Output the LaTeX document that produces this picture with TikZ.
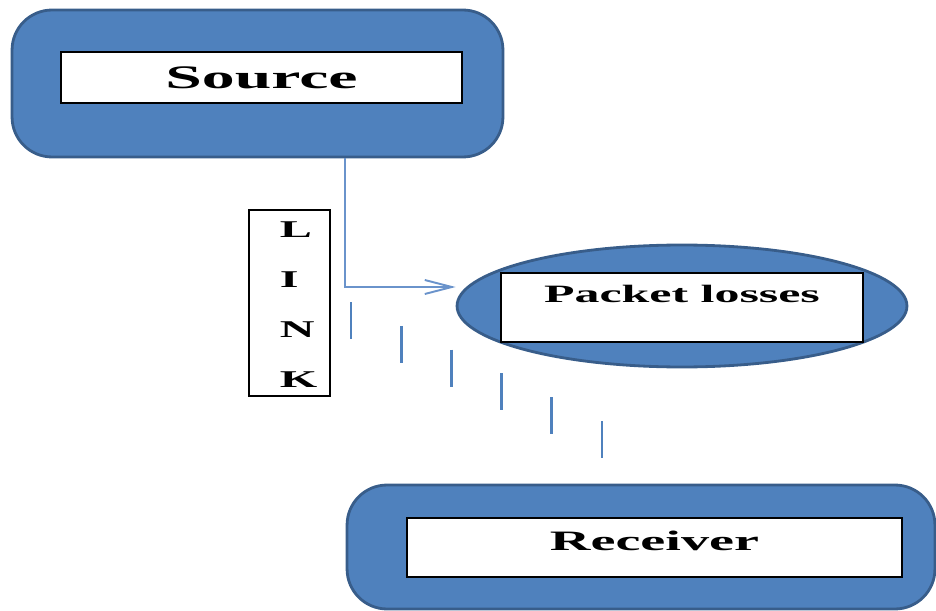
\documentclass[tikz,border=0pt]{standalone}
\usepackage{fontspec}
\setmainfont{Liberation Serif}
\usetikzlibrary{arrows.meta,shapes.geometric,calc,positioning}
\definecolor{blockfill}{HTML}{4F81BD}
\definecolor{blockedge}{HTML}{385D8A}
\definecolor{linkblue}{HTML}{6A93CB}
\newcommand{\stretched}[1]{\scalebox{2}[1]{#1}}

\begin{document}
\begin{tikzpicture}[x=0.02cm,y=-0.02cm,
    bluefill/.style={draw=blockedge,fill=blockfill,line width=1.6pt},
    outerblock/.style={bluefill,rounded corners=0.8cm},
    namebox/.style={draw=black,fill=white,line width=1pt,inner sep=0pt},
    flow/.style={draw=linkblue,line width=1.1pt,-{Straight Barb[length=0.54cm,width=0.28cm]}},
    lossdash/.style={draw=blockfill,line width=1.5pt}]
  \useasboundingbox (0,0) rectangle (936,611);
  % source
  \node[outerblock,minimum width=9.82cm,minimum height=2.94cm] (srcblock) at (257.5,83.5) {};
  \node[namebox,minimum width=8.02cm,minimum height=1.02cm,
        font=\fontsize{18.7}{22}\selectfont\bfseries] (srcname) at (261.5,77.5) {\stretched{Source}};
  % link
  \node[draw=black,line width=1pt,minimum width=1.62cm,minimum height=3.72cm] (linkbox) at (289.5,303) {};
  \node[align=left,inner sep=0pt,font=\fontsize{13.7}{28.45}\selectfont\bfseries] (linkword) at (298.5,305)
       {\stretched{L}\\\stretched{I}\\\stretched{N}\\\stretched{K}};
  % packet losses
  \node[bluefill,ellipse,inner sep=0pt,minimum width=9cm,minimum height=2.44cm] (lossring) at (682,306) {};
  \node[namebox,minimum width=7.24cm,minimum height=1.38cm,text depth=0.56cm,
        font=\fontsize{14.2}{17}\selectfont\bfseries] (lossname) at (682,307.5) {\stretched{Packet losses}};
  % receiver
  \node[outerblock,minimum width=11.76cm,minimum height=2.48cm] (rcvblock) at (641,547) {};
  \node[namebox,minimum width=9.9cm,minimum height=1.18cm,text depth=0.27cm,
        font=\fontsize{16}{19}\selectfont\bfseries] (rcvname) at (654.5,547.5) {\stretched{Receiver}};
  % connector and lost packets
  \draw[flow] ($(srcblock.south)+(87.5,0)$) |- ($(lossring.west)+(0,-19)$);
  \foreach \k in {0,...,5}
    \draw[lossdash] (351+50.2*\k,302+23.8*\k) -- ++(0,37);
\end{tikzpicture}
\end{document}
